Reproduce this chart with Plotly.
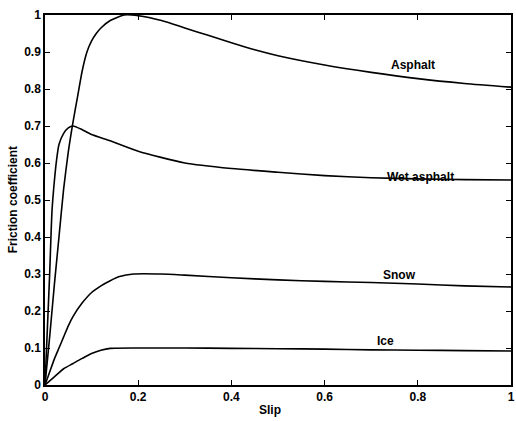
import plotly.graph_objects as go

# ---- data ----
asphalt_slip = [0, 0.01, 0.02, 0.03, 0.04, 0.05, 0.06, 0.07, 0.08, 0.09, 0.10, 0.11, 0.12, 0.14, 0.17,
                0.20, 0.25, 0.30, 0.35, 0.40, 0.45, 0.50, 0.60, 0.70, 0.80, 0.90, 1.00]
asphalt_mu = [0, 0.13, 0.27, 0.40, 0.53, 0.63, 0.71, 0.78, 0.85, 0.90, 0.93, 0.95, 0.965, 0.985, 1.0,
              0.998, 0.985, 0.965, 0.945, 0.925, 0.906, 0.89, 0.865, 0.845, 0.828, 0.815, 0.805]

wet_slip = [0, 0.005, 0.01, 0.015, 0.02, 0.025, 0.03, 0.04, 0.05, 0.06, 0.08, 0.10, 0.14, 0.20,
            0.30, 0.40, 0.50, 0.60, 0.70, 0.80, 0.90, 1.00]
wet_mu = [0, 0.15, 0.30, 0.47, 0.55, 0.61, 0.65, 0.68, 0.695, 0.70, 0.69, 0.677, 0.66, 0.632,
          0.60, 0.585, 0.575, 0.566, 0.56, 0.557, 0.555, 0.554]

snow_slip = [0, 0.01, 0.02, 0.03, 0.04, 0.05, 0.06, 0.08, 0.10, 0.12, 0.14, 0.16, 0.19, 0.25,
             0.30, 0.40, 0.50, 0.60, 0.70, 0.80, 0.90, 1.00]
snow_mu = [0, 0.035, 0.07, 0.10, 0.13, 0.16, 0.185, 0.222, 0.25, 0.268, 0.282, 0.293, 0.300, 0.300,
           0.297, 0.290, 0.284, 0.280, 0.277, 0.273, 0.268, 0.265]

ice_slip = [0, 0.02, 0.04, 0.06, 0.08, 0.10, 0.12, 0.14, 0.20, 0.30, 0.40, 0.50, 0.60, 0.70,
            0.80, 0.90, 1.00]
ice_mu = [0, 0.022, 0.044, 0.058, 0.072, 0.085, 0.094, 0.099, 0.100, 0.100, 0.099, 0.098, 0.097,
          0.095, 0.094, 0.093, 0.092]

labels = ["Asphalt", "Wet asphalt", "Snow", "Ice"]
label_x = [0.79, 0.805, 0.76, 0.73]
label_y = [0.865, 0.562, 0.297, 0.12]

x_ticks = [0, 0.2, 0.4, 0.6, 0.8, 1]
x_ticktext = ["0", "0.2", "0.4", "0.6", "0.8", "1"]
y_ticks = [0, 0.1, 0.2, 0.3, 0.4, 0.5, 0.6, 0.7, 0.8, 0.9, 1]
y_ticktext = ["0", "0.1", "0.2", "0.3", "0.4", "0.5", "0.6", "0.7", "0.8", "0.9", "1"]

FONT = "Arial, Liberation Sans, sans-serif"

fig = go.Figure()
for xs, ys in [(asphalt_slip, asphalt_mu), (wet_slip, wet_mu), (snow_slip, snow_mu), (ice_slip, ice_mu)]:
    fig.add_trace(go.Scatter(x=xs, y=ys, mode="lines",
                             line=dict(color="black", width=1.6, shape="spline", smoothing=0.6),
                             showlegend=False, hoverinfo="skip"))

for t, lx, ly in zip(labels, label_x, label_y):
    fig.add_annotation(x=lx, y=ly, text=t, showarrow=False, xref="x", yref="y",
                       xanchor="center", yanchor="middle",
                       font=dict(family=FONT, size=12, color="black", weight="bold"))

fig.add_annotation(x=-0.068, y=0.5, xref="paper", yref="paper", text="Friction coefficient", textangle=-90,
                   showarrow=False, xanchor="center", yanchor="middle",
                   font=dict(family=FONT, size=12, color="black", weight="bold"))
fig.add_annotation(x=0.483, y=-0.068, xref="paper", yref="paper", text="Slip", showarrow=False,
                   xanchor="center", yanchor="middle",
                   font=dict(family=FONT, size=12, color="black", weight="bold"))

axis_common = dict(showline=True, linecolor="black", linewidth=1.5, mirror="ticks", ticks="inside",
                   ticklen=5, tickcolor="black", tickwidth=1.2, showgrid=False, zeroline=False,
                   ticklabeloverflow="allow",
                   tickfont=dict(family=FONT, size=12, color="black", weight="bold"))

fig.update_xaxes(range=[0, 1], tickvals=x_ticks, ticktext=x_ticktext, **axis_common)
fig.update_yaxes(range=[0, 1], tickvals=y_ticks, ticktext=y_ticktext, **axis_common)

fig.update_layout(width=516, height=421, margin=dict(l=45, r=1, t=15, b=36),
                  plot_bgcolor="white", paper_bgcolor="white")

# remove the default page margin so the 516x421 figure fills the window exactly
fig.write_html("out.html", config={"displayModeBar": False},
               post_script="document.body.style.margin='0';document.body.style.overflow='hidden';")
